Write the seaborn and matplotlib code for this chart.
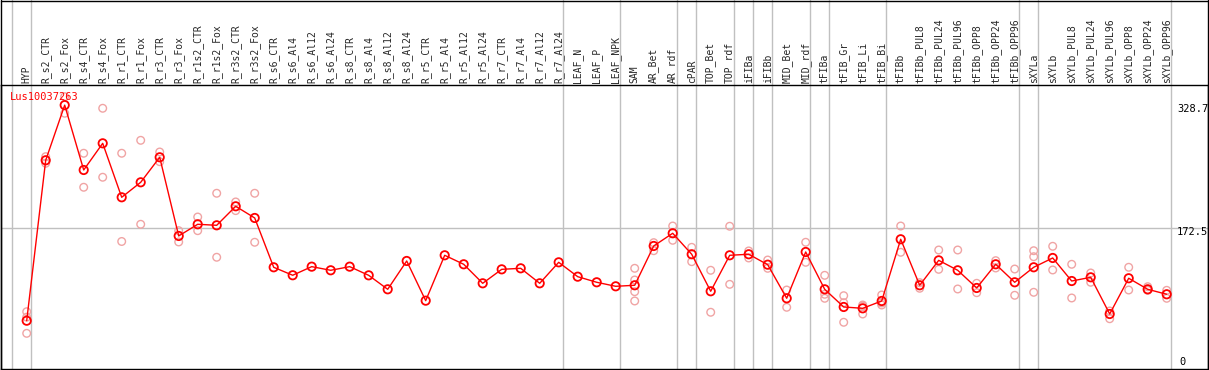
import matplotlib
matplotlib.use("Agg")
import matplotlib.pyplot as plt
from matplotlib.lines import Line2D
import seaborn as sns
import pandas as pd
import numpy as np

categories = ["HYP", "R_s2_CTR", "R_s2_Fox", "R_s4_CTR", "R_s4_Fox", "R_r1_CTR", "R_r1_Fox",
              "R_r3_CTR", "R_r3_Fox", "R_r1s2_CTR", "R_r1s2_Fox", "R_r3s2_CTR", "R_r3s2_Fox",
              "R_s6_CTR", "R_s6_Al4", "R_s6_Al12", "R_s6_Al24", "R_s8_CTR", "R_s8_Al4",
              "R_s8_Al12", "R_s8_Al24", "R_r5_CTR", "R_r5_Al4", "R_r5_Al12", "R_r5_Al24",
              "R_r7_CTR", "R_r7_Al4", "R_r7_Al12", "R_r7_Al24", "LEAF_N", "LEAF_P", "LEAF_NPK",
              "SAM", "AR_Bet", "AR_rdf", "cPAR", "TOP_Bet", "TOP_rdf", "iFIBa", "iFIBb",
              "MID_Bet", "MID_rdf", "tFIBa", "tFIB_Gr", "tFIB_Li", "tFIB_Bi", "tFIBb",
              "tFIBb_PUL8", "tFIBb_PUL24", "tFIBb_PUL96", "tFIBb_OPP8", "tFIBb_OPP24",
              "tFIBb_OPP96", "sXYLa", "sXYLb", "sXYLb_PUL8", "sXYLb_PUL24", "sXYLb_PUL96",
              "sXYLb_OPP8", "sXYLb_OPP24", "sXYLb_OPP96"]

means = [55.5, 258.8, 328.7, 246.5, 280.3, 211.9, 230.9, 262.6, 162.9, 177.7, 176.4, 200.5,
         185.7, 123.2, 113.1, 124.0, 119.4, 124.0, 113.0, 95.3, 131.2, 80.9, 138.4, 127.0,
         102.9, 120.6, 121.9, 102.9, 129.5, 111.3, 104.2, 99.1, 100.4, 150.2, 166.3, 139.7,
         92.8, 138.4, 139.7, 126.5, 83.9, 142.6, 95.3, 72.9, 71.2, 80.5, 158.7, 100.4, 132.0,
         119.4, 97.0, 127.0, 104.2, 123.2, 135.0, 105.8, 110.5, 64.0, 109.3, 95.3, 89.0]

replicates = [[66.9, 60.0, 39.5], [263.4, 255.0], [339.4, 318.4], [267.7, 224.6],
              [324.7, 237.3], [267.7, 155.9], [284.1, 177.7], [269.3, 257.0],
              [169.6, 155.3], [186.9, 169.6], [217.0, 135.9], [206.0, 195.0],
              [217.0, 154.9], [], [], [], [], [], [], [], [], [], [], [], [], [], [], [],
              [], [], [], [],
              [121.9, 107.1, 92.3, 80.5], [154.4, 144.2], [175.5, 157.4], [148.5, 130.3],
              [119.4, 66.2], [175.2, 101.6], [143.9, 135.0], [132.4, 121.9], [94.4, 72.5],
              [154.9, 129.5], [113.0, 89.0, 83.9], [87.2, 78.3, 53.5], [74.1, 64.0, 75.4],
              [88.1, 75.4, 78.0], [175.5, 142.2], [103.7, 96.6], [145.1, 120.6],
              [145.1, 95.7], [102.9, 91.0], [131.6, 122.3], [121.0, 87.7],
              [144.2, 136.6, 91.5], [149.8, 119.8], [127.0, 84.3], [116.0, 104.2],
              [67.8, 58.0], [123.2, 94.4], [98.6, 94.0], [94.0, 83.9]]

group_ends = [-1, 0, 28, 31, 34, 35, 37, 38, 39, 41, 42, 45, 52, 53, 60]
gene_name = "Lus10037263"
y_max_label = "328.7"
y_mid_value = 172.5

sns.set_style("white")
plt.rcParams['font.family'] = ['DejaVu Sans Mono', 'DejaVu Sans']

W, H = 1209, 370
fig = plt.figure(figsize=(W / 100, H / 100), dpi=100)
ax = fig.add_axes([1 / W, 1 / H, 1207 / W, 284 / H])

df_mean = pd.DataFrame({"x": np.arange(len(categories)), "value": means})
rx, ry = [], []
for i, r in enumerate(replicates):
    for v in r:
        rx.append(i)
        ry.append(v)
df_rep = pd.DataFrame({"x": rx, "value": ry})

# separators
for g in group_ends:
    ax.axvline(g + 0.2, ymin=0, ymax=369 / 284, color="#C0C0C0", lw=1.0,
               clip_on=False, zorder=1)
ax.axhline(y_mid_value, color="#C0C0C0", lw=1.0, zorder=1)

sns.scatterplot(data=df_rep, x="x", y="value", ax=ax, marker="o", s=30,
                facecolors="none", edgecolors="#F0A4A4", linewidths=1.0, zorder=2)
sns.lineplot(data=df_mean, x="x", y="value", ax=ax, color="red", lw=1.0, zorder=3)
sns.scatterplot(data=df_mean, x="x", y="value", ax=ax, marker="o", s=36,
                facecolors="none", edgecolors="#FF0000", linewidths=1.3, zorder=4)

ax.set_xlim((1 - 26.7) / 19, (1208 - 26.7) / 19)
ax.set_ylim(-5.7, 354.2)
ax.set_xlabel("")
ax.set_ylabel("")
ax.set_yticks([])
ax.set_xticks(np.arange(len(categories)))
ax.xaxis.tick_top()
ax.set_xticklabels(categories, rotation=90, fontsize=7, family="DejaVu Sans Mono")
ax.tick_params(axis="x", length=0, pad=1.5)
for s in ax.spines.values():
    s.set_color("black")
    s.set_linewidth(1.0)

# outer frame for label area
fig.add_artist(Line2D([0.5 / W, 1208.5 / W], [1 - 0.5 / H, 1 - 0.5 / H], color="black", lw=1.0))
fig.add_artist(Line2D([1 / W, 1 / W], [1 / H, 1], color="black", lw=1.0))
fig.add_artist(Line2D([1208 / W, 1208 / W], [1 / H, 1], color="black", lw=1.0))

fig.text(10 / W, 1 - 97 / H, gene_name, color="red", fontsize=7.5, va="center", ha="left",
         family="DejaVu Sans Mono")
fig.text(1177 / W, 1 - 109 / H, y_max_label, color="black", fontsize=7.5, va="center", ha="left")
fig.text(1177 / W, 1 - 232 / H, f"{y_mid_value}", color="black", fontsize=7.5, va="center", ha="left")
fig.text(1179 / W, 1 - 362 / H, "0", color="black", fontsize=7.5, va="center", ha="left")

fig.savefig("out.png", dpi=100)
